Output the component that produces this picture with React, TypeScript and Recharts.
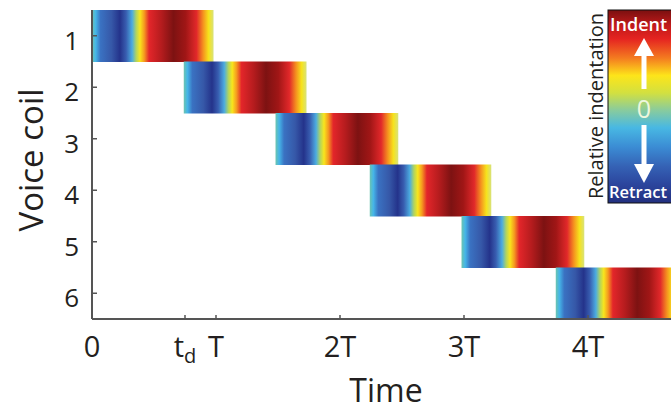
import React from 'react';
import { BarChart, Bar, XAxis, YAxis } from 'recharts';

// ---- data ----
const coils = ['1', '2', '3', '4', '5', '6'];
const pulseStart = [0, 0.74, 1.48, 2.24, 2.98, 3.74];
const pulseEnd = [0.98, 1.73, 2.47, 3.22, 3.97, 4.72];
const timeTicks = [0, 0.75, 1, 2, 3, 4];
const timeTickLabels = ['0', 't_d', 'T', '2T', '3T', '4T'];
const colorbarLabels = { top: 'Indent', mid: '0', bottom: 'Retract', title: 'Relative indentation' };
const axisTitles = { x: 'Time', y: 'Voice coil' };

const data = coils.map((c, i) => ({ coil: c, span: [pulseStart[i], pulseEnd[i]] }));

// ---- style ----
const FONT = "'Open Sans', 'Noto Sans', sans-serif";
const INK = '#231f20';
const AXIS = '#555555';
const W = 671;
const H = 411;
const CHART_W = 712;
const LEFT = 92;
const TOP = 10;
const BOTTOM = 319;

const pulseStops: [number, string][] = [
  [0, '#6cc4b0'],
  [0.03, '#45b6e8'],
  [0.07, '#3a72c2'],
  [0.16, '#3658a8'],
  [0.23, '#24338b'],
  [0.28, '#385db0'],
  [0.33, '#4cace0'],
  [0.365, '#b4d55c'],
  [0.395, '#f8e51c'],
  [0.43, '#f59a1f'],
  [0.47, '#e3262a'],
  [0.57, '#b51c1e'],
  [0.67, '#7d1212'],
  [0.77, '#a01616'],
  [0.86, '#e1282a'],
  [0.915, '#f5921f'],
  [0.96, '#f6e31c'],
  [1, '#d8e27a'],
];

const cbarStops: [number, string][] = [
  [0, '#7a1010'],
  [0.08, '#c01a1a'],
  [0.15, '#e52421'],
  [0.25, '#f47c20'],
  [0.34, '#fde51a'],
  [0.43, '#d2e040'],
  [0.52, '#88cb9e'],
  [0.61, '#48b8e3'],
  [0.71, '#3b8cd4'],
  [0.81, '#3562b5'],
  [0.9, '#2c469e'],
  [1, '#22307f'],
];

const XTick = (props: any) => {
  const { x, payload } = props;
  const idx = timeTicks.indexOf(payload.value);
  const label = timeTickLabels[idx] ?? String(payload.value);
  const parts = label.split('_');
  return (
    <g>
      <line x1={x} x2={x} y1={BOTTOM} y2={BOTTOM - 4} stroke={AXIS} strokeWidth={1.5} />
      <text x={x} y={357} textAnchor="middle" fontFamily={FONT} fontSize={29} fill={INK}>
        {parts[0]}
        {parts[1] ? (
          <tspan fontSize={20} dy={6}>
            {parts[1]}
          </tspan>
        ) : null}
      </text>
    </g>
  );
};

const YTick = (props: any) => {
  const { y, payload } = props;
  return (
    <g>
      <line x1={LEFT} x2={LEFT + 5} y1={y} y2={y} stroke={AXIS} strokeWidth={1.5} />
      <text x={79} y={y + 14} textAnchor="end" fontFamily={FONT} fontSize={26} fill={INK}>
        {payload.value}
      </text>
    </g>
  );
};

const XTitle = () => (
  <text x={386} y={402} textAnchor="middle" fontFamily={FONT} fontSize={32} fill={INK}>
    {axisTitles.x}
  </text>
);

const YTitle = () => (
  <text
    transform="translate(43,160) rotate(-90)"
    x={0}
    y={0}
    textAnchor="middle"
    fontFamily={FONT}
    fontSize={33}
    fill={INK}
  >
    {axisTitles.y}
  </text>
);

export default function App() {
  return (
    <div
      style={{
        position: 'absolute',
        left: 0,
        top: 0,
        width: W,
        height: H,
        overflow: 'hidden',
        background: '#ffffff',
      }}
    >
      <svg width={0} height={0} style={{ position: 'absolute' }}>
        <defs>
          <linearGradient id="pulseGrad" x1="0" y1="0" x2="1" y2="0">
            {pulseStops.map(([o, c], i) => (
              <stop key={i} offset={o} stopColor={c} />
            ))}
          </linearGradient>
          <linearGradient id="cbarGrad" x1="0" y1="0" x2="0" y2="1">
            {cbarStops.map(([o, c], i) => (
              <stop key={i} offset={o} stopColor={c} />
            ))}
          </linearGradient>
        </defs>
      </svg>
      <BarChart
        width={CHART_W}
        height={H}
        data={data}
        layout="vertical"
        margin={{ top: TOP, right: 0, bottom: 0, left: 0 }}
        barCategoryGap={0}
        barGap={0}
      >
        <XAxis
          type="number"
          domain={[0, 5]}
          ticks={timeTicks}
          interval={0}
          height={H - BOTTOM}
          tick={<XTick />}
          tickLine={false}
          axisLine={{ stroke: AXIS, strokeWidth: 2 }}
          allowDataOverflow
          label={<XTitle />}
        />
        <XAxis
          xAxisId="top"
          orientation="top"
          type="number"
          domain={[0, 5]}
          height={0}
          tick={false}
          tickLine={false}
          axisLine={{ stroke: AXIS, strokeWidth: 2 }}
        />
        <YAxis
          type="category"
          dataKey="coil"
          width={LEFT}
          tick={<YTick />}
          tickLine={false}
          axisLine={{ stroke: AXIS, strokeWidth: 2 }}
          interval={0}
          label={<YTitle />}
        />
        <Bar dataKey="span" fill="url(#pulseGrad)" isAnimationActive={false} />
      </BarChart>
      <svg
        width={W}
        height={H}
        style={{ position: 'absolute', left: 0, top: 0, pointerEvents: 'none' }}
      >
        <text
          transform="translate(603,106) rotate(-90)"
          textAnchor="middle"
          fontFamily={FONT}
          fontSize={20}
          fill={INK}
        >
          {colorbarLabels.title}
        </text>
        <rect x={608} y={10} width={80} height={193} fill="url(#cbarGrad)" stroke="#111" strokeWidth={1} />
        <text x={610} y={31} fontFamily={FONT} fontSize={18} fontWeight={600} fill="#ffffff">
          {colorbarLabels.top}
        </text>
        <polygon points="644,38 634,56 654,56" fill="#ffffff" />
        <rect x={641.5} y={55} width={5} height={34} fill="#ffffff" />
        <text
          x={644}
          y={118}
          textAnchor="middle"
          fontFamily={FONT}
          fontSize={25}
          fill="#eef7dc"
        >
          {colorbarLabels.mid}
        </text>
        <rect x={641.5} y={125} width={5} height={40} fill="#ffffff" />
        <polygon points="634,164 654,164 644,183" fill="#ffffff" />
        <text x={609} y={198} fontFamily={FONT} fontSize={16.5} fontWeight={600} fill="#ffffff">
          {colorbarLabels.bottom}
        </text>
      </svg>
    </div>
  );
}
